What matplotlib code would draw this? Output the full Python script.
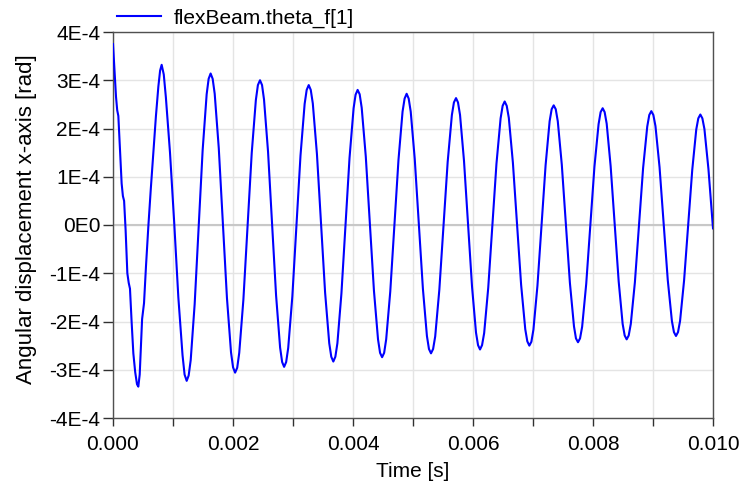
import numpy as np
import matplotlib
matplotlib.use('Agg')
import matplotlib.pyplot as plt
from matplotlib.ticker import MultipleLocator, FormatStrFormatter

plt.rcParams['font.family'] = ['Liberation Sans', 'DejaVu Sans']

# flexBeam.theta_f[1]: time in ms, angle in 1E-4 rad
t_ms = [
    0.000, 0.020, 0.050, 0.070, 0.089, 0.115, 0.144, 0.165, 0.185, 0.210,
    0.239, 0.262, 0.283, 0.310, 0.339, 0.370, 0.400, 0.422, 0.445, 0.465,
    0.485, 0.500, 0.517, 0.550, 0.589, 0.630, 0.672, 0.715, 0.756, 0.785,
    0.811,
    0.846, 0.881, 0.950, 1.020, 1.089, 1.159, 1.193, 1.228,
    1.261, 1.295, 1.361, 1.428, 1.494, 1.561, 1.594, 1.627,
    1.661, 1.695, 1.763, 1.831, 1.899, 1.967, 2.001, 2.035,
    2.070, 2.104, 2.173, 2.243, 2.312, 2.381, 2.415, 2.450,
    2.484, 2.517, 2.584, 2.651, 2.718, 2.785, 2.819, 2.852,
    2.886, 2.920, 2.989, 3.057, 3.125, 3.194, 3.228, 3.262,
    3.296, 3.330, 3.399, 3.467, 3.535, 3.604, 3.638, 3.672,
    3.706, 3.740, 3.807, 3.875, 3.942, 4.010, 4.043, 4.077,
    4.111, 4.145, 4.213, 4.281, 4.349, 4.417, 4.451, 4.485,
    4.519, 4.553, 4.621, 4.690, 4.758, 4.826, 4.860, 4.894,
    4.928, 4.962, 5.029, 5.097, 5.165, 5.232, 5.266, 5.300,
    5.335, 5.370, 5.439, 5.509, 5.578, 5.648, 5.682, 5.717,
    5.750, 5.784, 5.850, 5.917, 5.984, 6.050, 6.084, 6.117,
    6.151, 6.186, 6.254, 6.323, 6.391, 6.460, 6.494, 6.528,
    6.562, 6.597, 6.665, 6.734, 6.802, 6.871, 6.905, 6.939,
    6.973, 7.007, 7.074, 7.142, 7.210, 7.277, 7.311, 7.345,
    7.379, 7.413, 7.480, 7.548, 7.615, 7.683, 7.716, 7.750,
    7.784, 7.819, 7.887, 7.956, 8.024, 8.093, 8.127, 8.161,
    8.194, 8.228, 8.294, 8.361, 8.428, 8.494, 8.528, 8.561,
    8.595, 8.630, 8.698, 8.767, 8.835, 8.904, 8.938, 8.972,
    9.006, 9.041, 9.109, 9.178, 9.246, 9.315, 9.349, 9.383,
    9.417, 9.451, 9.518, 9.586, 9.654, 9.721, 9.755, 9.789,
    9.823, 9.857, 9.924, 9.992, 10.000,
]
theta_e4 = [
    3.75, 3.30, 2.66, 2.38, 2.26, 1.60, 0.86, 0.60, 0.50, -0.10,
    -1.00, -1.20, -1.32, -2.00, -2.66, -3.05, -3.30, -3.35, -3.10, -2.50,
    -1.95, -1.80, -1.62, -0.85, -0.03, 0.75, 1.49, 2.25, 2.87, 3.20,
    3.32,
    3.12, 2.65, 1.50, 0.05, -1.50, -2.70, -3.10, -3.23,
    -3.12, -2.80, -1.64, -0.05, 1.55, 2.71, 3.03, 3.14,
    3.03, 2.72, 1.59, 0.04, -1.51, -2.64, -2.95, -3.06,
    -2.96, -2.65, -1.55, -0.03, 1.49, 2.59, 2.90, 3.00,
    2.90, 2.60, 1.52, 0.03, -1.46, -2.54, -2.84, -2.94,
    -2.84, -2.55, -1.48, -0.02, 1.44, 2.51, 2.80, 2.90,
    2.80, 2.52, 1.47, 0.04, -1.40, -2.45, -2.73, -2.83,
    -2.73, -2.45, -1.42, -0.02, 1.39, 2.42, 2.70, 2.80,
    2.71, 2.43, 1.42, 0.03, -1.36, -2.37, -2.65, -2.74,
    -2.65, -2.37, -1.38, -0.01, 1.35, 2.35, 2.62, 2.72,
    2.62, 2.35, 1.37, 0.03, -1.32, -2.30, -2.57, -2.66,
    -2.57, -2.31, -1.34, -0.02, 1.31, 2.28, 2.54, 2.63,
    2.54, 2.28, 1.33, 0.03, -1.28, -2.23, -2.49, -2.58,
    -2.49, -2.24, -1.30, -0.01, 1.27, 2.21, 2.47, 2.56,
    2.47, 2.22, 1.29, 0.03, -1.24, -2.16, -2.41, -2.50,
    -2.42, -2.17, -1.26, -0.01, 1.24, 2.15, 2.40, 2.48,
    2.40, 2.15, 1.25, 0.03, -1.20, -2.10, -2.35, -2.43,
    -2.35, -2.11, -1.22, -0.01, 1.21, 2.09, 2.34, 2.42,
    2.34, 2.10, 1.22, 0.03, -1.17, -2.05, -2.29, -2.37,
    -2.29, -2.05, -1.19, -0.01, 1.18, 2.04, 2.28, 2.36,
    2.28, 2.05, 1.20, 0.03, -1.14, -1.99, -2.22, -2.30,
    -2.22, -1.99, -1.15, -0.01, 1.14, 1.98, 2.21, 2.29,
    2.21, 1.99, 1.16, 0.05, -0.07,
]

y_ticks = [-4e-4, -3e-4, -2e-4, -1e-4, 0, 1e-4, 2e-4, 3e-4, 4e-4]
y_labels = ['-4E-4', '-3E-4', '-2E-4', '-1E-4', '0E0', '1E-4', '2E-4', '3E-4', '4E-4']

t = np.array(t_ms) * 1e-3
theta = np.array(theta_e4) * 1e-4

fig = plt.figure(figsize=(7.42, 4.87), dpi=100)
ax = fig.add_axes([113/742, 69/487, 600/742, 386/487])

ax.plot(t, theta, color='#0000ff', linewidth=1.5, label='flexBeam.theta_f[1]', zorder=3)

ax.set_xlim(0, 0.010)
ax.set_ylim(-4e-4, 4e-4)
ax.xaxis.set_major_locator(MultipleLocator(0.002))
ax.xaxis.set_minor_locator(MultipleLocator(0.001))
ax.xaxis.set_major_formatter(FormatStrFormatter('%.3f'))
ax.set_yticks(y_ticks)
ax.set_yticklabels(y_labels)

ax.grid(True, which='both', color='#e4e4e4', linewidth=1.0, zorder=0)
ax.axhline(0, color='#c8c8c8', linewidth=1.5, zorder=1)
ax.set_axisbelow(True)

for s in ax.spines.values():
    s.set_color('#505050')
    s.set_linewidth(1.0)

ax.tick_params(axis='y', direction='out', length=7, width=1, pad=2,
               labelsize=15, color='#303030')
ax.tick_params(axis='x', which='both', direction='out', length=6, width=1, pad=6,
               labelsize=15, color='#303030')

ax.set_xlabel('Time [s]', fontsize=15)
ax.xaxis.set_label_coords(0.5, -0.113)
ax.xaxis.label.set_va('top')
ax.set_ylabel('Angular displacement x-axis [rad]', fontsize=16)
ax.yaxis.set_label_coords(-0.127, 0.515)

ax.legend(loc='lower left', bbox_to_anchor=(0, 1.0), frameon=False, fontsize=15,
          handlelength=2.1, handletextpad=0.6, borderpad=0.05, borderaxespad=0.15)

fig.savefig('out.png', dpi=100)
